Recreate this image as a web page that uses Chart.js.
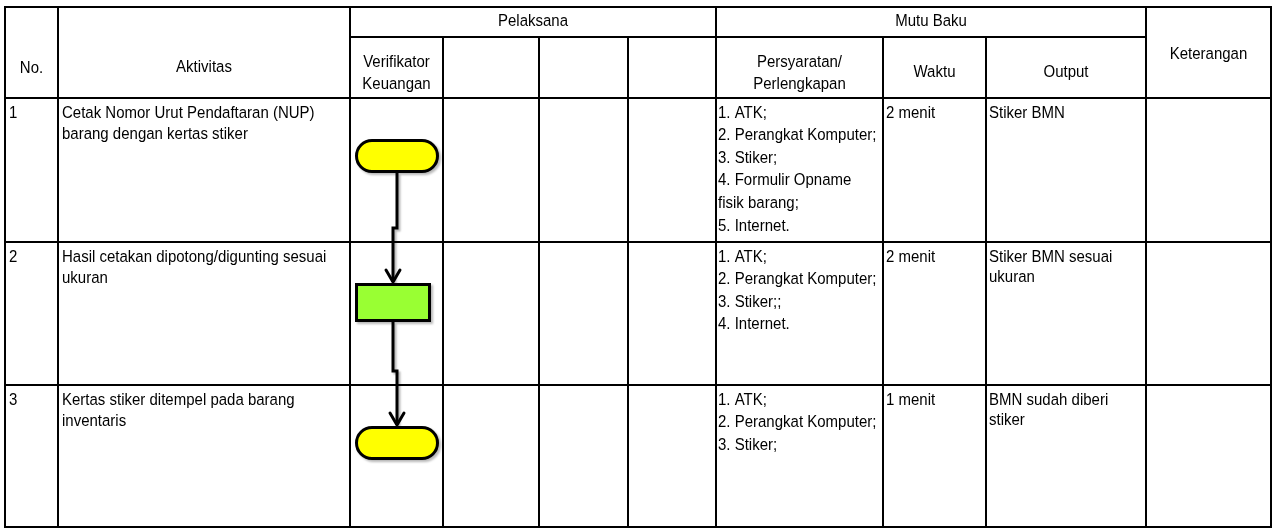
<!DOCTYPE html>
<html>
<head>
<meta charset="utf-8">
<script src="https://cdn.jsdelivr.net/npm/chart.js@4.4.0/dist/chart.umd.min.js"></script>
<style>
html, body { margin: 0; padding: 0; background: #fff; }
#wrap { width: 1275px; height: 529px; position: relative; }
</style>
</head>
<body>
<div id="wrap"><canvas id="FlowChart"></canvas></div>
<script>
// table content
const step_numbers = ['1', '2', '3'];
const activities = [
    ['Cetak Nomor Urut Pendaftaran (NUP)', 'barang dengan kertas stiker'],
    ['Hasil cetakan dipotong/digunting sesuai', 'ukuran'],
    ['Kertas stiker ditempel pada barang', 'inventaris']
];
const step_shapes = ['terminator', 'process', 'terminator'];
const step_lanes = [0, 0, 0];
const lane_labels = [['Verifikator', 'Keuangan'], [], [], []];
const requirements = [
    ['1. ATK;', '2. Perangkat Komputer;', '3. Stiker;', '4. Formulir Opname', 'fisik barang;', '5. Internet.'],
    ['1. ATK;', '2. Perangkat Komputer;', '3. Stiker;;', '4. Internet.'],
    ['1. ATK;', '2. Perangkat Komputer;', '3. Stiker;']
];
const durations = ['2 menit', '2 menit', '1 menit'];
const outputs = [['Stiker BMN'], ['Stiker BMN sesuai', 'ukuran'], ['BMN sudah diberi', 'stiker']];
const notes = ['', '', ''];

const group_labels = ['Pelaksana', 'Mutu Baku'];
const column_labels = [['No.'], ['Aktivitas'], ['Persyaratan/', 'Perlengkapan'], ['Waktu'], ['Output'], ['Keterangan']];

// layout (scale units = pixels)
const col_edges = [5, 58, 350, 443, 539, 628, 716, 883, 986, 1146, 1271];
const row_edges = [7, 37, 98, 242, 385, 527];
const FONT = '15px "Liberation Sans", Arial, sans-serif';
const LINE_H = 21;
const LIST_H = 22.6;

const shape_size = {
    terminator: { w: 84, h: 34, color: '#ffff00' },
    process: { w: 76, h: 39, color: '#99ff33' }
};

function makeShape(kind) {
    const s = shape_size[kind];
    const c = document.createElement('canvas');
    c.width = s.w + 2;
    c.height = s.h + 2;
    const g = c.getContext('2d');
    g.lineWidth = 3;
    g.strokeStyle = '#000';
    g.fillStyle = s.color;
    const x0 = 2.5, y0 = 2.5, w = s.w - 3, h = s.h - 3;
    g.beginPath();
    if (kind === 'terminator') {
        const r = h / 2;
        g.moveTo(x0 + r, y0);
        g.lineTo(x0 + w - r, y0);
        g.arc(x0 + w - r, y0 + r, r, -Math.PI / 2, Math.PI / 2);
        g.lineTo(x0 + r, y0 + h);
        g.arc(x0 + r, y0 + r, r, Math.PI / 2, Math.PI * 1.5);
    } else {
        g.rect(x0, y0, w, h);
    }
    g.closePath();
    g.fill();
    g.stroke();
    return c;
}
const shape_images = { terminator: makeShape('terminator'), process: makeShape('process') };

// node positions derived from step row and lane
const nodes = step_numbers.map((n, i) => {
    const s = shape_size[step_shapes[i]];
    const left = col_edges[2 + step_lanes[i]] + 5;
    const top = row_edges[2 + i] + 41;
    return { x: left + s.w / 2, y: top + s.h / 2, top: top, bottom: top + s.h };
});

const connector = [];
const arrow_tips = [];
for (let i = 0; i < nodes.length - 1; i++) {
    const a = nodes[i], b = nodes[i + 1];
    const jog = row_edges[3 + i] - 14;
    connector.push({ x: a.x, y: a.bottom }, { x: a.x, y: jog }, { x: b.x, y: jog }, { x: b.x, y: b.top - 1 }, { x: b.x, y: null });
    arrow_tips.push({ x: b.x, y: b.top - 1 });
}

function drawText(ctx, t, x, y) {
    ctx.save();
    ctx.translate(x, y);
    ctx.scale(1, 1.1);
    ctx.fillText(t, 0, 0);
    ctx.restore();
}

function setShadow(ctx, on) {
    ctx.shadowColor = on ? 'rgba(0,0,0,0.28)' : 'rgba(0,0,0,0)';
    ctx.shadowOffsetX = on ? 2 : 0;
    ctx.shadowOffsetY = on ? 2 : 0;
    ctx.shadowBlur = on ? 2 : 0;
}

const tablePlugin = {
    id: 'sopTable',
    beforeDatasetsDraw(chart) {
        const ctx = chart.ctx;
        const X = v => chart.scales.x.getPixelForValue(v);
        const Y = v => chart.scales.y.getPixelForValue(v);
        ctx.save();
        ctx.strokeStyle = '#000';
        ctx.lineWidth = 2;
        ctx.beginPath();
        const top = row_edges[0], sub = row_edges[1], bottom = row_edges[row_edges.length - 1];
        [0, 1, 2, 6, 9, 10].forEach(i => { ctx.moveTo(X(col_edges[i]), Y(top)); ctx.lineTo(X(col_edges[i]), Y(bottom)); });
        [3, 4, 5, 7, 8].forEach(i => { ctx.moveTo(X(col_edges[i]), Y(sub)); ctx.lineTo(X(col_edges[i]), Y(bottom)); });
        [0, 2, 3, 4, 5].forEach(j => { ctx.moveTo(X(col_edges[0] - 1), Y(row_edges[j])); ctx.lineTo(X(col_edges[10] + 1), Y(row_edges[j])); });
        ctx.moveTo(X(col_edges[2]), Y(sub)); ctx.lineTo(X(col_edges[9]), Y(sub));
        ctx.stroke();

        ctx.fillStyle = '#000';
        ctx.font = FONT;
        ctx.textBaseline = 'middle';
        const mid = (a, b) => X((col_edges[a] + col_edges[b]) / 2);
        const centred = (lines, cx, y0) => {
            ctx.textAlign = 'center';
            lines.forEach((t, k) => drawText(ctx, t, cx, Y(y0 + k * 22)));
        };
        centred([group_labels[0]], mid(2, 6), 21);
        centred([group_labels[1]], mid(6, 9), 21);
        centred(column_labels[0], mid(0, 1), 68);
        centred(column_labels[1], mid(1, 2), 67);
        lane_labels.forEach((l, k) => centred(l, mid(2 + k, 3 + k), 62));
        centred(column_labels[2], mid(6, 7), 62);
        centred(column_labels[3], mid(7, 8), 72);
        centred(column_labels[4], mid(8, 9), 72);
        centred(column_labels[5], mid(9, 10), 54);

        ctx.textAlign = 'left';
        const block = (lines, x, y0, h) => lines.forEach((t, k) => drawText(ctx, t, X(x), Y(y0 + k * h)));
        step_numbers.forEach((n, i) => {
            const y0 = row_edges[2 + i] + 15;
            block([n], col_edges[0] + 4, y0, LINE_H);
            block(activities[i], col_edges[1] + 4, y0, LINE_H);
            block(requirements[i], col_edges[6] + 2, y0, LIST_H);
            block([durations[i]], col_edges[7] + 3, y0, LINE_H);
            block(outputs[i], col_edges[8] + 3, y0, LINE_H - 1);
            block([notes[i]], col_edges[9] + 3, y0, LINE_H);
        });
        ctx.restore();
    },
    beforeDatasetDraw(chart) {
        setShadow(chart.ctx, true);
    },
    afterDatasetDraw(chart) {
        setShadow(chart.ctx, false);
    },
    afterDatasetsDraw(chart) {
        const ctx = chart.ctx;
        const X = v => chart.scales.x.getPixelForValue(v);
        const Y = v => chart.scales.y.getPixelForValue(v);
        ctx.save();
        ctx.strokeStyle = '#000';
        ctx.lineWidth = 3;
        ctx.lineCap = 'round';
        ctx.lineJoin = 'round';
        arrow_tips.forEach(p => {
            ctx.beginPath();
            ctx.moveTo(X(p.x) - 7, Y(p.y - 12));
            ctx.lineTo(X(p.x), Y(p.y));
            ctx.lineTo(X(p.x) + 7, Y(p.y - 12));
            ctx.stroke();
        });
        ctx.restore();
    }
};

const config = {
    type: 'scatter',
    data: {
        datasets: [{
            label: 'Langkah',
            data: nodes.map(n => ({ x: n.x, y: n.y })),
            pointStyle: step_shapes.map(s => shape_images[s]),
            pointRadius: 20,
            order: 1
        }, {
            type: 'line',
            label: 'Alur',
            data: connector,
            borderColor: '#000',
            borderWidth: 3,
            pointRadius: 0,
            spanGaps: false,
            tension: 0,
            order: 2
        }]
    },
    options: {
        responsive: true,
        maintainAspectRatio: false,
        animation: false,
        layout: { padding: 0, autoPadding: false },
        scales: {
            x: { type: 'linear', min: 0, max: 1275, display: false },
            y: { type: 'linear', min: 0, max: 529, reverse: true, display: false }
        },
        plugins: {
            legend: { display: false },
            tooltip: { enabled: false }
        }
    },
    plugins: [tablePlugin]
};

const FlowChart = new Chart(document.getElementById('FlowChart'), config);
</script>
</body>
</html>
